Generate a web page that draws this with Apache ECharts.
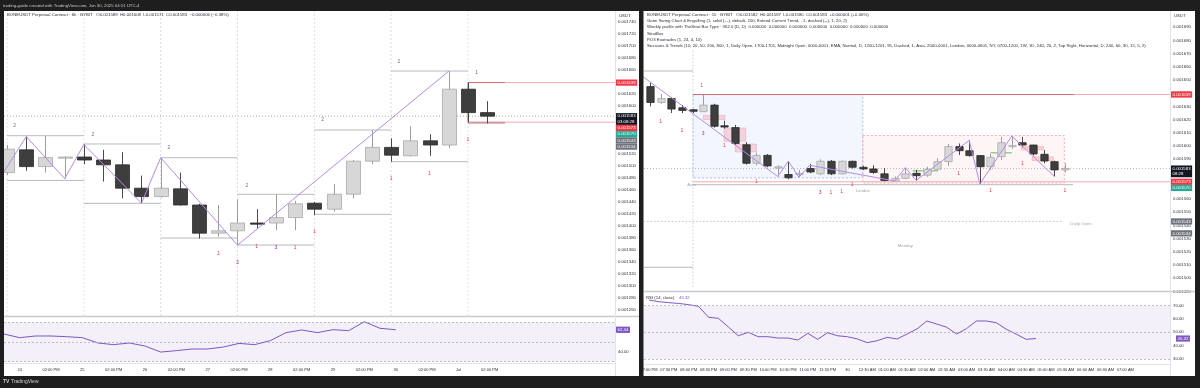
<!DOCTYPE html>
<html><head><meta charset="utf-8">
<script src="https://cdn.jsdelivr.net/npm/echarts@6/dist/echarts.min.js"></script>
<style>html,body{margin:0;padding:0;background:#1e1e1e;}#c{width:1200px;height:388px;}</style>
</head><body><div id="c"></div>
<script>
// ================= DATA =================
const topBarText = 'trading-guide created with TradingView.com, Jun 30, 2025 04:51 UTC-4';
const leftTitle = 'BONEUSDT Perpetual Contract · 6h · BYBIT   O0.001589  H0.001608  L0.001571  C0.001583  −0.000006 (−0.38%)';
const rightTitles = [
  'BONEUSDT Perpetual Contract · 15 · BYBIT   O0.001582  H0.001587  L0.001580  C0.001583  +0.000001 (+0.06%)',
  'Gann Swing Chart & Engulfing (1, solid (—), default, 200, Extend Current Trend, , 1, dashed (--), 1, 20, 2)',
  'Weekly profile with TheStrat Bar Type · 362.0 (D, D)  0.000000  0.000000  0.000000  0.000000  0.000000  0.000000  0.000000',
  'StratBox',
  'PO3 Exotrades (1, 24, 4, 10)',
  'Sessions & Trends (10, 20, 50, 200, 800, 1, Daily Open, 1700-1701, Midnight Open, 0000-0001, EMA, Normal, D, 1200-1201, 95, Dashed, 1, Asia, 2000-0001, London, 0000-0601, NY, 0700-1200, 1W, 1D, 240, 20, 2, Top Right, Horizontal, D, 240, 60, 30, 15, 5, 2)'
];
const rsiTitle = 'RSI (14, close)';
const rsiRightValueText = '45.32';

// ---- left (6h) candles: [open, high, low, close]
const leftOHLC = [
 [0.001489,0.001535,0.001485,0.001528],
 [0.001527,0.001549,0.001492,0.001499],
 [0.001499,0.001550,0.001489,0.001514],
 [0.001514,0.001516,0.001479,0.001515],
 [0.001515,0.001536,0.001503,0.001510],
 [0.001510,0.001527,0.001474,0.001502],
 [0.001502,0.001523,0.001446,0.001463],
 [0.001463,0.001484,0.001438,0.001449],
 [0.001449,0.001514,0.001447,0.001463],
 [0.001462,0.001489,0.001434,0.001435],
 [0.001435,0.001437,0.001379,0.001388],
 [0.001388,0.001435,0.001382,0.001392],
 [0.001392,0.001444,0.001368,0.001405],
 [0.001405,0.001428,0.001396,0.001403],
 [0.001405,0.001453,0.001393,0.001414],
 [0.001414,0.001442,0.001393,0.001437],
 [0.001438,0.001440,0.001418,0.001428],
 [0.001428,0.001470,0.001424,0.001453],
 [0.001453,0.001510,0.001446,0.001508],
 [0.001508,0.001560,0.001503,0.001531],
 [0.001531,0.001546,0.001507,0.001518],
 [0.001517,0.001566,0.001516,0.001542],
 [0.001542,0.001553,0.001517,0.001535],
 [0.001535,0.001658,0.001530,0.001628],
 [0.001628,0.001639,0.001573,0.001589],
 [0.001589,0.001608,0.001571,0.001583]
];
const leftDayLines = [0, 4, 8, 12, 16, 20, 24];
const leftZigzag = [[-1,0.0014485],[1,0.001549],[3,0.001479],[4,0.001536],[7,0.001438],[8,0.001514],[12,0.001368],[23,0.001658]];
// swing levels: [fromBar, toBar, price]
const leftSwingLevels = [
 [0,4,0.0015505],[0,4,0.001476],[4,8,0.0015367],[4,8,0.0014378],
 [8,12,0.0015138],[8,12,0.00138],[12,16,0.0014528],[12,16,0.0013683],
 [16,20,0.00156],[16,20,0.0014195],[20,24,0.0016583],[20,24,0.0015072],[24,25.93,0.001571]
];
const leftPrevHigh = 0.001639, leftPrevLow = 0.001573, leftLevelStart = 24, leftLevelDark = 25.93;
const leftLastPrice = 0.001583;
const leftLabels2 = [[0.4,0.001568,'2'],[4.47,0.0015522,'2'],[8.43,0.0015305,'2'],[12.49,0.0014678,'2'],[16.43,0.0015767,'2'],[20.4,0.0016738,'2'],[24.45,0.0016555,'1']];
const leftLabelsRed = [[11,0.0013545,'1'],[13,0.0013655,'1'],[15,0.0013638,'1'],[16,0.00139,'1'],[20,0.0014795,'1'],[22,0.0014878,'1'],[24,0.0015445,'1']];
const leftLabelsPurple = [[12,0.0013388,'3'],[14,0.0013645,'3']];
// tags: [price, kind, countdown]
const leftTags = [[0.001639,'red',''],[0.001583,'black','03:08:28'],[0.001573,'red',''],[0.001570,'green',''],[0.001543,'gray',''],[0.001534,'gray','']];
const leftRSI = [58.1,54.4,56.1,56.1,55.4,54.4,49,47.3,49,45.9,39.8,41.2,42.9,42.9,44.9,48.6,47.3,51.4,59.5,62.2,59.5,62.5,61.5,70.6,63.9,62.44];
const leftTimeTicks = [[1,'24'],[3,'02:00 PM'],[5,'25'],[7,'02:00 PM'],[9,'26'],[11,'02:00 PM'],[13,'27'],[15,'02:00 PM'],[17,'28'],[19,'02:00 PM'],[21,'29'],[23,'02:00 PM'],[25,'30'],[27,'02:00 PM'],[29,'Jul'],[31,'02:00 PM']];
const leftRsiShown = [40, 60];

// ---- right (15m) candles: [open, high, low, close]
const rightOHLC = [
 [0.001645,0.001648,0.001630,0.001633],
 [0.001633,0.0016394,0.001632,0.001636],
 [0.001636,0.001637,0.001625,0.001628],
 [0.001629,0.001631,0.001625,0.001627],
 [0.0016275,0.001628,0.001625,0.0016263],
 [0.001626,0.001639,0.001626,0.001631],
 [0.001631,0.001632,0.001614,0.001615],
 [0.0016154,0.0016192,0.0016132,0.0016144],
 [0.001614,0.001616,0.001601,0.001602],
 [0.001601,0.001603,0.001586,0.001587],
 [0.001587,0.001595,0.0015855,0.001593],
 [0.001593,0.001594,0.001584,0.001585],
 [0.001584,0.0015855,0.001577,0.0015843],
 [0.0015785,0.0015885,0.001575,0.001576],
 [0.001579,0.001582,0.0015764,0.0015794],
 [0.001583,0.0015865,0.0015795,0.0015804],
 [0.001579,0.00159,0.001578,0.0015885],
 [0.0015885,0.0015895,0.001578,0.001579],
 [0.001579,0.001589,0.0015785,0.0015885],
 [0.0015885,0.001589,0.001583,0.001584],
 [0.001584,0.001585,0.001582,0.0015827],
 [0.0015827,0.0015855,0.001579,0.00158],
 [0.001579,0.0015834,0.0015734,0.001574],
 [0.0015736,0.001577,0.0015736,0.0015756],
 [0.0015756,0.0015837,0.001575,0.001579],
 [0.0015794,0.001582,0.001574,0.0015776],
 [0.001578,0.0015844,0.0015768,0.0015825],
 [0.0015825,0.0015908,0.001581,0.0015882],
 [0.0015882,0.0016016,0.001585,0.0015996],
 [0.0015996,0.001602,0.0015933,0.0015965],
 [0.0015965,0.0016043,0.001592,0.0015928],
 [0.0015928,0.001593,0.0015713,0.0015844],
 [0.0015844,0.001594,0.001582,0.0015915],
 [0.001592,0.001607,0.0015895,0.0016026],
 [0.0016,0.0016076,0.001598,0.0016005],
 [0.0016026,0.001607,0.001599,0.0016008],
 [0.0016008,0.001601,0.001593,0.001594],
 [0.0015938,0.001597,0.001587,0.0015887],
 [0.0015882,0.001589,0.001577,0.001582],
 [0.001582,0.001587,0.00158,0.001583]
];
const rightZigzag = [[-1,0.0016545],[12,0.001577],[13,0.0015885],[14,0.0015764],[15,0.0015855],[23,0.0015736],[24,0.0015837],[25,0.001574],[30,0.0016043],[31,0.0015713],[34,0.0016076],[38,0.001577]];
const rightSessionStart = 4.04;
const rightGrayLevels = [[-0.6,4.04,0.0016568],[-0.6,4.04,0.0015083],[4.04,39.75,0.0015708]];
const rightPrevHigh = 0.001639, rightPrevLow = 0.001573, rightDarkEnd = 39.9;
const rightLastPrice = 0.001583;
const rightDailyOpen = [-0.6, 38.8, 0.001543];
// boxes: [fromBar, topPrice, toBar, bottomPrice]
const asiaBox = [4.04,0.001639,20,0.001576];
const londonBox = [20,0.001608,38.94,0.001572];
const engulfBoxes = [[5,0.0016233,7.05,0.00162],[6.95,0.0016137,9,0.0016036],[8,0.0016016,10,0.0015955],[34.9,0.0015996,37,0.001597],[35.9,0.001592,37.9,0.001589]];
const engulfGreen = [[24.7,27,0.0015814],[32,34,0.001595]];
const rightLabelsRed = [[1,0.0016188,'1'],[3,0.0016116,'1'],[7,0.0016006,'1'],[10,0.0015728,'1'],[17,0.0015645,'1'],[18,0.0015658,'1'],[19,0.0015708,'1'],[29,0.0015794,'1'],[35,0.001587,'1'],[32,0.0015663,'1'],[39,0.0015663,'1']];
const rightLabelsPurple = [[5,0.0016092,'3'],[16,0.0015645,'3']];
const rightLabelsGray = [[4.86,0.001646,'1']];
const rightSessionLabels = [[3.9,0.0015708,'Asia','center'],[20,0.0015658,'London','center'],[24,0.0015244,'Monday','center'],[39.5,0.001541,'Daily Open','left']];
const rightTags = [[0.001639,'red',''],[0.001583,'black','08:28'],[0.001573,'red',''],[0.001570,'green',''],[0.001543,'gray',''],[0.001534,'gray','']];
const rightRSI = [74.3,73,72.3,71.7,70.8,69.5,61.3,60.5,54,47.4,50,46.7,46.7,45.7,45.7,44.2,49.2,44.7,49.7,47.4,46.7,45,42.2,43.7,46.2,45,48.7,52.5,58.5,56.2,53.8,48.7,52.8,58.5,58.5,57.2,52.3,48.7,44.7,45.32];
const rightTimeLabels = ['07:00 PM','07:30 PM','08:00 PM','08:30 PM','09:00 PM','09:30 PM','10:00 PM','10:30 PM','11:00 PM','11:30 PM','30','12:30 AM','01:00 AM','01:30 AM','02:00 AM','02:30 AM','03:00 AM','03:30 AM','04:00 AM','04:30 AM','05:00 AM','05:30 AM','06:00 AM','06:30 AM','07:00 AM'];
const rightRsiShown = [30, 40, 50, 60, 70];
const rsiLevels = [70, 50, 30];

// ================= RENDER =================
const FONT = '"Liberation Sans", Arial, sans-serif';
const FS = 4.3;
const FS_TIME = 4.0;
const TAGC = {red:'#f23645', black:'#131722', green:'#22ab94', gray:'#6f727c', purple:'#7e57c2'};

const L = {xMin:-0.16, xMax:31.66};
const R = {xMin:-0.564, xMax:48.87};

function candleRenderer(bw){
  return function(params, api){
    const i = api.value(0), o = api.value(1), h = api.value(2), l = api.value(3), c = api.value(4);
    const pO = api.coord([i,o]), pC = api.coord([i,c]), pH = api.coord([i,h]), pL = api.coord([i,l]);
    const w = api.size([1,0])[0]*bw;
    const bull = c >= o;
    const x = Math.round(pO[0]) + 0.5;
    const top = Math.min(pO[1], pC[1]);
    let hh = Math.abs(pO[1]-pC[1]); if (hh < 1.2) hh = 1.2;
    return {type:'group', children:[
      {type:'line', shape:{x1:x,y1:pH[1],x2:x,y2:pL[1]}, style:{stroke: bull ? '#9d9d9d' : '#4a4a4a', lineWidth:1}},
      {type:'rect', shape:{x:x-w/2, y:top, width:w, height:hh}, style:{fill: bull ? '#d7d7d7' : '#3e3e3e', stroke: bull ? '#a8a8a8' : '#2c2c2c', lineWidth:0.8}}
    ]};
  };
}
function segRenderer(style){
  return function(params, api){
    const a = api.coord([api.value(0), api.value(1)]), b = api.coord([api.value(2), api.value(3)]);
    return {type:'line', shape:{x1:a[0],y1:a[1],x2:b[0],y2:b[1]}, style:Object.assign({}, style)};
  };
}
function rectRenderer(style){
  return function(params, api){
    const a = api.coord([api.value(0), api.value(1)]), b = api.coord([api.value(2), api.value(3)]);
    return {type:'rect', shape:{x:a[0], y:a[1], width:b[0]-a[0], height:b[1]-a[1]}, style:Object.assign({}, style)};
  };
}
function textRenderer(arr, color, size){
  return function(params, api){
    const p = api.coord([api.value(0), api.value(1)]);
    const it = arr[params.dataIndex];
    return {type:'text', x:p[0], y:p[1], style:{text: it[2], fill: color, font: size + 'px ' + FONT, align: it[3] || 'center', verticalAlign:'middle'}};
  };
}
function tagRenderer(tags, xEdge, decimals){
  return function(params, api){
    const lh = 5.6;
    const items = tags.map((t, i) => ({i, y: api.coord([xEdge, t[0]])[1], n: t[2] ? 2 : 1}));
    items.sort((a, b) => a.y - b.y);
    let prev = -1e9; const tops = {};
    items.forEach(it => { let top = it.y - lh/2 - 0.3; if (top < prev) top = prev; tops[it.i] = top; prev = top + it.n*lh + 0.6; });
    const t = tags[params.dataIndex];
    const x = api.coord([xEdge, t[0]])[0];
    const txt = t[0].toFixed(decimals) + (t[2] ? '\n' + t[2] : '');
    return {type:'text', x: x + 1, y: tops[params.dataIndex], z2: 10, style:{text: txt, fill:'#ffffff', font: FS + 'px ' + FONT, lineHeight: lh, backgroundColor: TAGC[t[1]], padding:[0.3, 1.6, 0.3, 1.6], align:'left', verticalAlign:'top'}};
  };
}
function custom(name, xi, data, render, extra){
  return Object.assign({type:'custom', name, xAxisIndex:xi, yAxisIndex:xi, data, renderItem:render, clip:true, silent:true, animation:false}, extra || {});
}

// derived series data
const leftCandleData = leftOHLC.map((d,i) => [i, d[0], d[1], d[2], d[3]]);
const rightCandleData = rightOHLC.map((d,i) => [i, d[0], d[1], d[2], d[3]]);
const leftDayData = leftDayLines.map(x => [x, 0.00176, x, 0.00125]);
const leftSwingData = leftSwingLevels.map(s => [s[0], s[2], s[1], s[2]]);
const leftRedDark = [[leftLevelStart,leftPrevHigh,leftLevelDark,leftPrevHigh],[leftLevelStart,leftPrevLow,leftLevelDark,leftPrevLow],[leftLevelStart,leftPrevHigh,leftLevelStart,leftPrevLow]];
const leftRedLight = [[leftLevelDark,leftPrevHigh,L.xMax,leftPrevHigh],[leftLevelDark,leftPrevLow,L.xMax,leftPrevLow]];
const leftPriceLine = [[L.xMin,leftLastPrice,L.xMax,leftLastPrice]];
const rightGrayData = rightGrayLevels.map(s => [s[0], s[2], s[1], s[2]]);
const rightRedDark = [[rightSessionStart,rightPrevHigh,rightDarkEnd,rightPrevHigh]];
const rightRedLight = [[rightDarkEnd,rightPrevHigh,R.xMax,rightPrevHigh],[rightSessionStart,rightPrevLow,R.xMax,rightPrevLow]];
const rightPriceLine = [[R.xMin,rightLastPrice,R.xMax,rightLastPrice]];
const rightDailyData = [[rightDailyOpen[0], rightDailyOpen[2], rightDailyOpen[1], rightDailyOpen[2]]];
const rightVLine = [[rightSessionStart,0.001672,rightSessionStart,0.001492]];
const greenData = engulfGreen.map(s => [s[0], s[2], s[1], s[2]]);

const leftCats = Array.from({length:40}, (_, i) => String(i));
const leftTickMap = {}; leftTimeTicks.forEach(t => leftTickMap[t[0]] = t[1]);
const rightCats = Array.from({length:53}, (_, i) => String(i));
const rightTickMap = {}; rightTimeLabels.forEach((t, j) => rightTickMap[j*2] = t);

function rsiFormatter(shown){ return v => { const r = Math.round(v); return (Math.abs(v - r) < 1e-6 && shown.indexOf(r) >= 0) ? r.toFixed(2) : ''; }; }
const axisLabelBase = {color:'#2a2e39', fontSize:FS, fontFamily:FONT, margin:3};

function rsiSeries(xi, data){
  return [{
    type:'line', xAxisIndex:xi, yAxisIndex:xi, data, symbol:'none', silent:true, animation:false,
    lineStyle:{color:'#7e57c2', width:1},
    markArea:{silent:true, itemStyle:{color:'rgba(126,87,194,0.09)'}, data:[[{yAxis:rsiLevels[0]},{yAxis:rsiLevels[2]}]]},
    markLine:{silent:true, symbol:'none', animation:false, label:{show:false}, lineStyle:{color:'#a3a6af', type:[2,2], width:0.7}, data: rsiLevels.map(v => ({yAxis:v}))}
  }];
}

const chart = echarts.init(document.getElementById('c'), null, {renderer:'canvas'});
const option = {
  animation:false,
  backgroundColor:'#ffffff',
  grid:[
    {left:4, top:10, width:611, height:312},
    {left:4, top:317, width:611, height:46},
    {left:644, top:11, width:526, height:280.5},
    {left:644, top:292, width:526, height:72}
  ],
  xAxis:[
    {type:'value', gridIndex:0, min:L.xMin, max:L.xMax, show:false},
    {type:'category', gridIndex:1, data:leftCats, boundaryGap:false,
      axisLine:{show:true, lineStyle:{color:'#e0e3eb'}}, axisTick:{show:false}, splitLine:{show:false},
      axisLabel:Object.assign({}, axisLabelBase, {fontSize:FS_TIME, interval:0, margin:5, formatter:(v, i) => leftTickMap[i] || ''})},
    {type:'value', gridIndex:2, min:R.xMin, max:R.xMax, show:false},
    {type:'category', gridIndex:3, data:rightCats, boundaryGap:true,
      axisLine:{show:true, lineStyle:{color:'#e0e3eb'}}, axisTick:{show:false}, splitLine:{show:false},
      axisLabel:Object.assign({}, axisLabelBase, {fontSize:FS_TIME, interval:0, margin:4, formatter:(v, i) => rightTickMap[i] || ''})}
  ],
  yAxis:[
    {type:'value', gridIndex:0, position:'right', min:0.00124, max:0.00176, interval:0.00002,
      axisLine:{show:false}, axisTick:{show:false}, splitLine:{show:false},
      axisLabel:Object.assign({}, axisLabelBase, {formatter: v => (v < 0.001249 || v > 0.001755) ? '' : v.toFixed(6)})},
    {type:'value', gridIndex:1, position:'right', min:28.68, max:75.38, splitNumber:5,
      axisLine:{show:false}, axisTick:{show:false}, splitLine:{show:false},
      axisLabel:Object.assign({}, axisLabelBase, {formatter: rsiFormatter(leftRsiShown)})},
    {type:'value', gridIndex:2, position:'right', min:0.00149, max:0.00170219, interval:0.00001,
      axisLine:{show:false}, axisTick:{show:false}, splitLine:{show:false},
      axisLabel:Object.assign({}, axisLabelBase, {formatter: v => v > 0.001695 ? '' : v.toFixed(6)})},
    {type:'value', gridIndex:3, position:'right', min:26.17, max:80.3, splitNumber:5,
      axisLine:{show:false}, axisTick:{show:false}, splitLine:{show:false},
      axisLabel:Object.assign({}, axisLabelBase, {formatter: rsiFormatter(rightRsiShown)})}
  ],
  series:[
    // ---------- LEFT MAIN ----------
    custom('leftDays', 0, leftDayData, segRenderer({stroke:'#d6d8de', lineWidth:0.8, lineDash:[2,2]})),
    custom('leftPrice', 0, leftPriceLine, segRenderer({stroke:'#9598a1', lineWidth:0.8, lineDash:[1,2]})),
    custom('leftSwing', 0, leftSwingData, segRenderer({stroke:'#b7b9c0', lineWidth:1})),
    custom('leftRedLight', 0, leftRedLight, segRenderer({stroke:'#f7a9b0', lineWidth:1})),
    custom('leftRedDark', 0, leftRedDark, segRenderer({stroke:'#e0636e', lineWidth:1})),
    custom('leftCandles', 0, leftCandleData, candleRenderer(0.73), {z:3}),
    {type:'line', xAxisIndex:0, yAxisIndex:0, data:leftZigzag, symbol:'none', silent:true, animation:false, z:4,
      lineStyle:{color:'#b48be6', width:1}},
    custom('leftT2', 0, leftLabels2, textRenderer(leftLabels2, '#6f727c', 5), {z:5}),
    custom('leftTR', 0, leftLabelsRed, textRenderer(leftLabelsRed, '#f23645', 5), {z:5}),
    custom('leftTP', 0, leftLabelsPurple, textRenderer(leftLabelsPurple, '#9c27b0', 5), {z:5}),
    custom('leftTags', 0, leftTags.map(t => [L.xMax, t[0]]), tagRenderer(leftTags, L.xMax, 6), {clip:false, z:6}),
    // ---------- LEFT RSI ----------
    ...rsiSeries(1, leftRSI),
    custom('leftRsiTag', 1, [[39, leftRSI[leftRSI.length-1]]], tagRenderer([[leftRSI[leftRSI.length-1],'purple','']], 39, 2), {clip:false, z:6}),
    // ---------- RIGHT MAIN ----------
    custom('asia', 2, [asiaBox], rectRenderer({fill:'rgba(41,98,255,0.06)', stroke:'#94b3f3', lineWidth:0.8, lineDash:[2,2]}), {z:1}),
    custom('london', 2, [londonBox], rectRenderer({fill:'rgba(242,54,69,0.05)', stroke:'#f5a0a8', lineWidth:0.8, lineDash:[2,2]}), {z:1}),
    custom('rightV', 2, rightVLine, segRenderer({stroke:'#c3c5cc', lineWidth:0.8, lineDash:[1.5,2]})),
    custom('rightDaily', 2, rightDailyData, segRenderer({stroke:'#b2b5be', lineWidth:0.8, lineDash:[1.5,2]})),
    custom('rightPrice', 2, rightPriceLine, segRenderer({stroke:'#a3a6af', lineWidth:0.8, lineDash:[1,2]})),
    custom('rightGray', 2, rightGrayData, segRenderer({stroke:'#b7b9c0', lineWidth:1})),
    custom('rightRedLight', 2, rightRedLight, segRenderer({stroke:'#f7a9b0', lineWidth:1})),
    custom('rightRedDark', 2, rightRedDark, segRenderer({stroke:'#cf6b74', lineWidth:1})),
    custom('engulf', 2, engulfBoxes, rectRenderer({fill:'rgba(242,54,69,0.18)', stroke:'rgba(242,54,69,0.3)', lineWidth:0.6}), {z:2}),
    custom('engulfG', 2, greenData, segRenderer({stroke:'#8fcf92', lineWidth:1.4}), {z:2}),
    custom('rightCandles', 2, rightCandleData, candleRenderer(0.69), {z:3}),
    {type:'line', xAxisIndex:2, yAxisIndex:2, data:rightZigzag, symbol:'none', silent:true, animation:false, z:4,
      lineStyle:{color:'#b48be6', width:1}},
    custom('rightTR', 2, rightLabelsRed, textRenderer(rightLabelsRed, '#f23645', 5), {z:5}),
    custom('rightTP', 2, rightLabelsPurple, textRenderer(rightLabelsPurple, '#9c27b0', 5), {z:5}),
    custom('rightTG', 2, rightLabelsGray, textRenderer(rightLabelsGray, '#6f727c', 5), {z:5}),
    custom('rightSess', 2, rightSessionLabels, textRenderer(rightSessionLabels, '#a3a6af', FS), {z:5}),
    custom('rightTags', 2, rightTags.map(t => [R.xMax, t[0]]), tagRenderer(rightTags, R.xMax, 6), {clip:false, z:6}),
    // ---------- RIGHT RSI ----------
    ...rsiSeries(3, rightRSI),
    custom('rightRsiTag', 3, [[52, rightRSI[rightRSI.length-1]]], tagRenderer([[rightRSI[rightRSI.length-1],'purple','']], 52.5, 2), {clip:false, z:6})
  ],
  graphic:[
    // separators
    {type:'line', shape:{x1:4,y1:316.5,x2:639,y2:316.5}, style:{stroke:'#c9cbd1', lineWidth:1.5}, z:50, silent:true},
    {type:'line', shape:{x1:644,y1:291.5,x2:1195,y2:291.5}, style:{stroke:'#c9cbd1', lineWidth:1.5}, z:50, silent:true},
    {type:'line', shape:{x1:615.5,y1:11,x2:615.5,y2:376}, style:{stroke:'#e0e3eb', lineWidth:1}, z:50, silent:true},
    {type:'line', shape:{x1:1170.5,y1:11,x2:1170.5,y2:376}, style:{stroke:'#e0e3eb', lineWidth:1}, z:50, silent:true},
    // headers
    {type:'text', x:7, y:15, z:60, silent:true, style:{text:leftTitle, fill:'#2a2e39', font:FS+'px '+FONT, verticalAlign:'middle'}},
    ...rightTitles.map((t, n) => ({type:'text', x:647, y:14.8 + n*6.2, z:60, silent:true, style:{text:t, fill:'#2a2e39', font:FS+'px '+FONT, verticalAlign:'middle'}})),
    {type:'text', x:619, y:15.5, z:60, silent:true, style:{text:'USDT', fill:'#2a2e39', font:FS+'px '+FONT, verticalAlign:'middle'}},
    {type:'text', x:1174, y:15.5, z:60, silent:true, style:{text:'USDT', fill:'#2a2e39', font:FS+'px '+FONT, verticalAlign:'middle'}},
    {type:'text', x:646, y:297.5, z:60, silent:true, style:{text:rsiTitle, fill:'#2a2e39', font:FS+'px '+FONT, verticalAlign:'middle'}},
    {type:'text', x:679, y:297.5, z:60, silent:true, style:{text:rsiRightValueText, fill:'#7e57c2', font:FS+'px '+FONT, verticalAlign:'middle'}},
    // dark frame
    {type:'rect', shape:{x:0,y:0,width:1200,height:11}, style:{fill:'#1e1e1e'}, z:100, silent:true},
    {type:'rect', shape:{x:0,y:376,width:1200,height:12}, style:{fill:'#1e1e1e'}, z:100, silent:true},
    {type:'rect', shape:{x:0,y:0,width:4,height:388}, style:{fill:'#1e1e1e'}, z:100, silent:true},
    {type:'rect', shape:{x:639,y:0,width:4.5,height:388}, style:{fill:'#1e1e1e'}, z:100, silent:true},
    {type:'rect', shape:{x:1195,y:0,width:5,height:388}, style:{fill:'#1e1e1e'}, z:100, silent:true},
    {type:'text', x:3, y:5.5, z:110, silent:true, style:{text:topBarText, fill:'#c9c9c9', font:FS+'px '+FONT, verticalAlign:'middle'}},
    {type:'text', x:3, y:382, z:110, silent:true, style:{text:'TV', fill:'#d0d0d0', font:'bold 5px '+FONT, verticalAlign:'middle'}},
    {type:'text', x:11, y:382, z:110, silent:true, style:{text:'TradingView', fill:'#d0d0d0', font:'5px '+FONT, verticalAlign:'middle'}}
  ]
};
chart.setOption(option);
</script>
</body></html>
